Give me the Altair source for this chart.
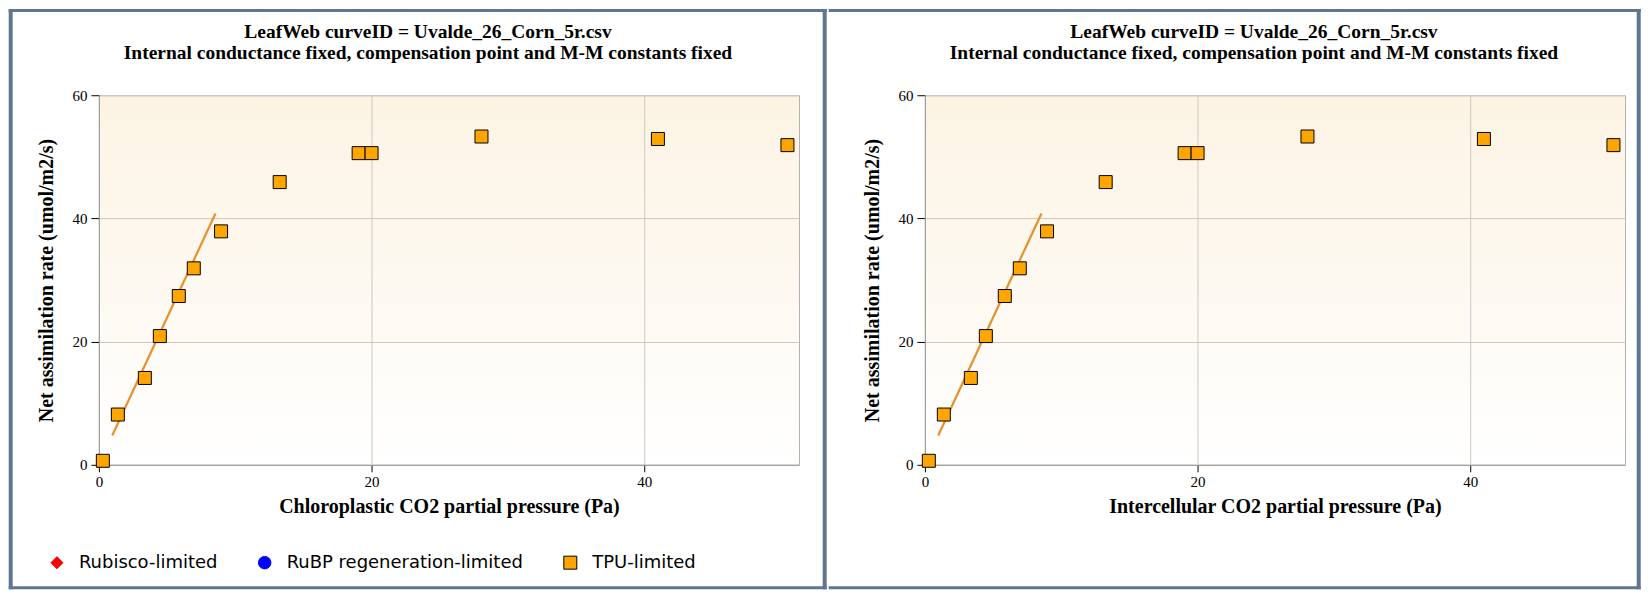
import altair as alt
import pandas as pd

# ---- data ----
ci = [0.29, 1.39, 3.37, 4.47, 5.86, 6.96, 8.96, 13.26, 19.05, 20.0, 28.06, 41.0, 50.5]
an = [0.65, 8.16, 14.1, 20.9, 27.4, 31.9, 37.9, 45.9, 50.6, 50.6, 53.3, 52.9, 51.9]
point_limit = "TPU-limited"
fit_x = [0.98, 8.55]
fit_y = [4.75, 40.8]
limits = ["Rubisco-limited", "RuBP regeneration-limited", "TPU-limited"]
limit_fill = ["#ff0000", "#0000ff", "#ffa500"]
limit_stroke = ["#d00000", "#0000ff", "#000000"]
limit_shape = ["diamond", "circle", "square"]
limit_size = [144, 169, 180]
x_ticks = [0, 20, 40]
y_ticks = [0, 20, 40, 60]
title_lines = ["LeafWeb curveID = Uvalde_26_Corn_5r.csv",
               "Internal conductance fixed, compensation point and M-M constants fixed"]
x_titles = ["Chloroplastic CO2 partial pressure (Pa)", "Intercellular CO2 partial pressure (Pa)"]
y_title = "Net assimilation rate (umol/m2/s)"

W, H = 701, 370
BORDER = "#5f7591"
SERIF = "Liberation Serif"

pts = pd.DataFrame({"ci": ci, "an": an, "limit": [point_limit] * len(ci)})
fit = pd.DataFrame({"ci": fit_x, "an": fit_y})
one = pd.DataFrame({"k": [0]})

xscale = alt.Scale(domain=[0, 51.35], nice=False, zero=False)
yscale = alt.Scale(domain=[0, 60], nice=False)


def legend():
    return alt.Legend(
        title=None, orient="none", legendX=-51, legendY=459, direction="horizontal",
        labelFont="DejaVu Sans", labelFontSize=18, labelColor="black",
        labelOffset=13, columnPadding=38, padding=0, symbolStrokeWidth=1,
        symbolOpacity=1, labelLimit=400,
    )


def panel(xtitle, first):
    xaxis = alt.Axis(
        title=xtitle, values=x_ticks, grid=True, gridColor="#cdc8c1",
        domainColor="#9a9a9a", tickColor="black", tickSize=7,
        labelFont=SERIF, labelFontSize=15, labelColor="black", labelPadding=3,
        labelFlush=False, titleFont=SERIF, titleFontSize=20, titleFontWeight="bold",
        titleColor="black", titlePadding=7,
    )
    yaxis = alt.Axis(
        title=y_title, values=y_ticks, grid=True, gridColor="#cdc8c1",
        domainColor="#9a9a9a", tickColor="black", tickSize=8,
        labelFont=SERIF, labelFontSize=15, labelColor="black", labelPadding=4,
        labelFlush=False, titleFont=SERIF, titleFontSize=20, titleFontWeight="bold",
        titleColor="black", titlePadding=15,
    )

    line = alt.Chart(fit).mark_line(color="#e98f2c", strokeWidth=2.2).encode(
        x=alt.X("ci:Q", scale=xscale, axis=xaxis),
        y=alt.Y("an:Q", scale=yscale, axis=yaxis),
    )
    points = alt.Chart(pts).mark_point(filled=True, opacity=1, strokeWidth=1).encode(
        x=alt.X("ci:Q", scale=xscale, axis=xaxis),
        y=alt.Y("an:Q", scale=yscale, axis=yaxis),
        color=alt.Color("limit:N", scale=alt.Scale(domain=limits, range=limit_fill), legend=legend()),
        stroke=alt.Stroke("limit:N", scale=alt.Scale(domain=limits, range=limit_stroke), legend=legend()),
        shape=alt.Shape("limit:N", scale=alt.Scale(domain=limits, range=limit_shape), legend=legend()),
        size=alt.Size("limit:N", scale=alt.Scale(domain=limits, range=limit_size), legend=legend()),
    )

    # decorative panel frame (pixel positions relative to the plot area)
    if first:
        L, R = -90.3, 728.7
    else:
        L, R = -96.3, 716.7
    T, B = -86.3, 494.7
    bars = []
    def bar(x1, x2, y1, y2):
        return alt.Chart(one).mark_rect(color=BORDER).encode(
            x=alt.value(x1), x2=alt.value(x2), y=alt.value(y1), y2=alt.value(y2))
    bars.append(bar(L, R, T, T + 3))
    bars.append(bar(L, R, B - 3, B))
    bars.append(bar(R - 4, R, T, B))
    if first:
        bars.append(bar(L, L + 4, T, B))

    return alt.layer(*bars, line, points).properties(
        width=W, height=H,
        title=alt.TitleParams(
            text=title_lines, font=SERIF, fontSize=19.5, fontWeight="bold", color="black",
            anchor="middle", frame="group", baseline="top", offset=-55, lineHeight=22,
            dx=-21,
        ),
    )


chart = alt.hconcat(panel(x_titles[0], True), panel(x_titles[1], False), spacing=0).properties(
    padding=0
).configure_view(
    fill={"expr": "{gradient: 'linear', x1: 0, y1: 0, x2: 0, y2: 1, stops: [{offset: 0, color: '#fcf3e3'}, {offset: 1, color: '#ffffff'}]}"},
    stroke="#b7b0a8", strokeWidth=1,
)

chart.save("out.html", embed_options={"renderer": "svg", "actions": False})
